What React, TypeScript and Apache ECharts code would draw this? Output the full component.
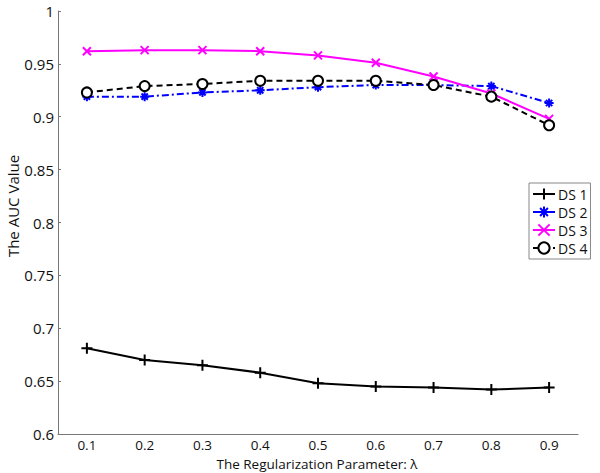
import React, { useEffect, useRef } from "react";
import * as echarts from "echarts";

const categories = ["0.1", "0.2", "0.3", "0.4", "0.5", "0.6", "0.7", "0.8", "0.9"];
const ds1 = [0.681, 0.67, 0.665, 0.658, 0.648, 0.645, 0.644, 0.642, 0.644];
const ds2 = [0.919, 0.919, 0.923, 0.925, 0.928, 0.93, 0.93, 0.929, 0.913];
const ds3 = [0.962, 0.963, 0.963, 0.962, 0.958, 0.951, 0.938, 0.922, 0.898];
const ds4 = [0.923, 0.929, 0.931, 0.934, 0.934, 0.934, 0.93, 0.919, 0.892];
const seriesNames = ["DS 1", "DS 2", "DS 3", "DS 4"];

const FONT = "Open Sans";
const PLUS = "path://M5,0L5,10M0,5L10,5";
const CROSS = "path://M0,0L10,10M10,0L0,10";
const STAR = "path://M5,0L5,10M0,5L10,5M1.5,1.5L8.5,8.5M8.5,1.5L1.5,8.5";

export default function App() {
  const ref = useRef<HTMLDivElement>(null);
  useEffect(() => {
    document.body.style.margin = "0";
    if (!ref.current) return;
    const chart = echarts.init(ref.current, null, { renderer: "svg" });
    const axisColor = "#777";
    chart.setOption({
      animation: false,
      backgroundColor: "#fff",
      textStyle: { fontFamily: FONT },
      grid: { left: 58, top: 11, width: 520, height: 423, containLabel: false },
      legend: {
        orient: "vertical",
        left: 529,
        top: 183,
        padding: [4, 3, 4, 3],
        itemGap: 4,
        itemWidth: 22,
        itemHeight: 14,
        borderColor: "#888",
        borderWidth: 1,
        backgroundColor: "#fff",
        borderRadius: 0,
        textStyle: { fontFamily: FONT, fontSize: 14, color: "#111", padding: [0, 0, 0, -2] },
        data: seriesNames,
      },
      xAxis: {
        type: "category",
        data: categories,
        boundaryGap: true,
        axisLine: { lineStyle: { color: axisColor, width: 1 } },
        axisTick: { inside: true, length: 4, alignWithLabel: true, lineStyle: { color: axisColor } },
        axisLabel: { color: "#111", fontSize: 13.5, lineHeight: 14, fontFamily: FONT, margin: 4 },
        splitLine: { show: false },
      },
      yAxis: {
        type: "value",
        min: 0.6,
        max: 1,
        interval: 0.05,
        axisLine: { show: true, lineStyle: { color: axisColor, width: 1 } },
        axisTick: { show: true, inside: true, length: 3, lineStyle: { color: axisColor } },
        axisLabel: { color: "#111", fontSize: 15, fontFamily: FONT, margin: 4 },
        splitLine: { show: false },
      },
      graphic: [
        {
          type: "text",
          x: 13,
          y: 206,
          rotation: Math.PI / 2,
          style: { text: "The AUC Value", fontSize: 15, fontFamily: FONT, fill: "#111", textAlign: "center", textVerticalAlign: "middle" },
        },
        {
          type: "text",
          x: 317,
          y: 464,
          style: { text: "The Regularization Parameter: λ", fontSize: 13.5, lineHeight: 14, fontFamily: FONT, fill: "#111", textAlign: "center", textVerticalAlign: "middle" },
        },
      ],
      series: [
        {
          name: seriesNames[0],
          type: "line",
          data: ds1,
          symbol: PLUS,
          symbolSize: 11,
          showAllSymbol: true,
          lineStyle: { color: "#000", width: 2, type: "solid" },
          itemStyle: { color: "#000", borderColor: "#000", borderWidth: 2 },
        },
        {
          name: seriesNames[1],
          type: "line",
          data: ds2,
          symbol: STAR,
          symbolSize: 9,
          lineStyle: { color: "#0000ff", width: 2, type: [7, 3, 2, 3] },
          itemStyle: { color: "#0000ff", borderColor: "#0000ff", borderWidth: 2 },
        },
        {
          name: seriesNames[2],
          type: "line",
          data: ds3,
          symbol: CROSS,
          symbolSize: 8,
          lineStyle: { color: "#ff00ff", width: 2, type: "solid" },
          itemStyle: { color: "#ff00ff", borderColor: "#ff00ff", borderWidth: 2 },
        },
        {
          name: seriesNames[3],
          type: "line",
          data: ds4,
          symbol: "circle",
          symbolSize: 10,
          lineStyle: { color: "#000", width: 2, type: [6, 4] },
          itemStyle: { color: "#fff", borderColor: "#000", borderWidth: 2 },
        },
      ],
    });
    return () => chart.dispose();
  }, []);
  return <div ref={ref} style={{ width: 600, height: 473 }} />;
}
